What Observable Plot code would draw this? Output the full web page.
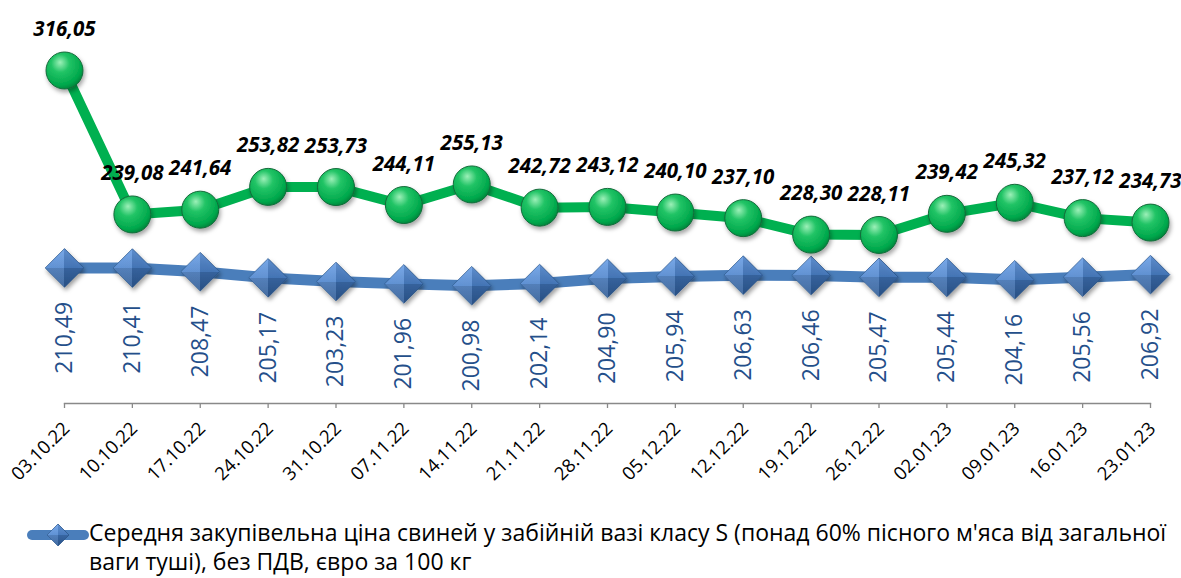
<!DOCTYPE html>
<html>
<head>
<meta charset="utf-8">
<script src="https://cdn.jsdelivr.net/npm/d3@7"></script>
<script src="https://cdn.jsdelivr.net/npm/@observablehq/plot@0.6"></script>
<style>
  html, body { margin: 0; padding: 0; background: #fff; }
  #wrap { position: relative; width: 1181px; height: 578px; overflow: hidden; font-family: "Open Sans", sans-serif; }
  #chart svg { display: block; }
  #legend { position: absolute; left: 0; top: 518px; width: 1181px; height: 58px; }
  #legend svg { position: absolute; left: 26px; top: 5px; }
  #legend .lbl { position: absolute; left: 89px; top: 0; width: 1090px; font-size: 23px; line-height: 29px; color: #000; }
</style>
</head>
<body>
<div id="wrap">
  <div id="chart"></div>
  <div id="legend"><svg width="64" height="24"></svg><div class="lbl"></div></div>
</div>
<script>
// ---- data ----
const dates = ["03.10.22","10.10.22","17.10.22","24.10.22","31.10.22","07.11.22","14.11.22","21.11.22","28.11.22","05.12.22","12.12.22","19.12.22","26.12.22","02.01.23","09.01.23","16.01.23","23.01.23"];
const topSeries = [316.05,239.08,241.64,253.82,253.73,244.11,255.13,242.72,243.12,240.10,237.10,228.30,228.11,239.42,245.32,237.12,234.73];
const classSSeries = [210.49,210.41,208.47,205.17,203.23,201.96,200.98,202.14,204.90,205.94,206.63,206.46,205.47,205.44,204.16,205.56,206.92];
const legendLabel = "Середня закупівельна ціна свиней у забійній вазі класу S (понад 60% пісного м'яса від загальної ваги туші), без ПДВ, євро за 100 кг";

const rows = dates.map((d, i) => ({date: d, top: topSeries[i], s: classSSeries[i]}));
const fmt = v => v.toFixed(2).replace(".", ",");

const GREEN = "#00B050", BLUE = "#4A7EBB";

const chart = Plot.plot({
  width: 1181,
  height: 500,
  marginLeft: 64,
  marginRight: 31,
  marginTop: 6.5,
  marginBottom: 97,
  style: {fontFamily: "'Open Sans', sans-serif", background: "white", overflow: "visible"},
  x: {type: "point", domain: dates, padding: 0, round: false, axis: null},
  y: {domain: [138, 350], axis: null},
  marks: [
    Plot.frame({anchor: "bottom", stroke: "#898989", strokeWidth: 1.3}),
    Plot.axisX({tickSize: 5, tickFormat: () => "", stroke: "#898989", strokeWidth: 1.3, label: null}),
    Plot.text(dates, {x: d => d, frameAnchor: "bottom", rotate: -45, textAnchor: "end", lineAnchor: "middle", dx: 2, dy: 22, fontSize: 18.5, fill: "#000"}),
    Plot.line(rows, {x: "date", y: "s", stroke: BLUE, strokeWidth: 11}),
    Plot.line(rows, {x: "date", y: "top", stroke: GREEN, strokeWidth: 10}),
    Plot.dot(rows, {x: "date", y: "s", symbol: "diamond2", r: 17.4, fill: "url(#gBlueTB)", stroke: "#2D5A92", strokeWidth: 0.8}),
    Plot.dot(rows, {x: "date", y: "s", symbol: "diamond2", r: 17.4, fill: "url(#gBlueLR)", stroke: "none"}),
    Plot.dot(rows, {x: "date", y: "top", r: 18.5, fill: "url(#gGreen)", stroke: "#146A3A", strokeWidth: 1}),
    Plot.text(rows, {x: "date", y: "top", text: d => fmt(d.top), dy: -41, fontSize: 20.5, fontWeight: "bold", fontStyle: "italic", fill: "#000"}),
    Plot.text(rows, {x: "date", y: "s", text: d => fmt(d.s), rotate: -90, textAnchor: "end", lineAnchor: "middle", dy: 34, fontSize: 23, fill: "#244F8A"})
  ]
});

function addDefs(svgSel) {
  const defs = svgSel.insert("defs", ":first-child");
  const g = defs.append("radialGradient").attr("id", "gGreen").attr("cx", "0.4").attr("cy", "0.35").attr("r", "0.7").attr("fx", "0.38").attr("fy", "0.28");
  g.append("stop").attr("offset", "0").attr("stop-color", "#9CF0B8");
  g.append("stop").attr("offset", "0.35").attr("stop-color", "#22C466");
  g.append("stop").attr("offset", "0.8").attr("stop-color", "#00A84C");
  g.append("stop").attr("offset", "1").attr("stop-color", "#007E38");
  const tb = defs.append("linearGradient").attr("id", "gBlueTB").attr("x1", 0).attr("y1", 0).attr("x2", 0).attr("y2", 1);
  tb.append("stop").attr("offset", "0").attr("stop-color", "#6A9FE6");
  tb.append("stop").attr("offset", "0.5").attr("stop-color", "#4E86D0");
  tb.append("stop").attr("offset", "0.5").attr("stop-color", "#3E71B4");
  tb.append("stop").attr("offset", "1").attr("stop-color", "#2E5C98");
  const lr = defs.append("linearGradient").attr("id", "gBlueLR").attr("x1", 0).attr("y1", 0).attr("x2", 1).attr("y2", 0);
  lr.append("stop").attr("offset", "0").attr("stop-color", "#ffffff").attr("stop-opacity", 0.10);
  lr.append("stop").attr("offset", "0.5").attr("stop-color", "#ffffff").attr("stop-opacity", 0.10);
  lr.append("stop").attr("offset", "0.5").attr("stop-color", "#000000").attr("stop-opacity", 0.10);
  lr.append("stop").attr("offset", "1").attr("stop-color", "#000000").attr("stop-opacity", 0.10);
  const f = defs.append("filter").attr("id", "shadow").attr("x", "-50%").attr("y", "-50%").attr("width", "200%").attr("height", "200%");
  f.append("feDropShadow").attr("dx", 1.5).attr("dy", 3).attr("stdDeviation", 2).attr("flood-color", "#000").attr("flood-opacity", 0.35);
}

const svg = d3.select(chart);
addDefs(svg);
svg.selectAll("g[aria-label=dot]").attr("filter", "url(#shadow)");
document.getElementById("chart").appendChild(chart);

// legend
const lsv = d3.select("#legend svg");
addDefs(lsv.append("g"));
lsv.append("line").attr("x1", 6).attr("x2", 58).attr("y1", 12).attr("y2", 12).attr("stroke", BLUE).attr("stroke-width", 10).attr("stroke-linecap", "round");
const dia = "M32,1 L43,12 L32,23 L21,12 Z";
lsv.append("path").attr("d", dia).attr("fill", "url(#gBlueTB)").attr("stroke", "#2D5A92").attr("stroke-width", 0.8);
lsv.append("path").attr("d", dia).attr("fill", "url(#gBlueLR)");
document.querySelector("#legend .lbl").textContent = legendLabel;
</script>
</body>
</html>
